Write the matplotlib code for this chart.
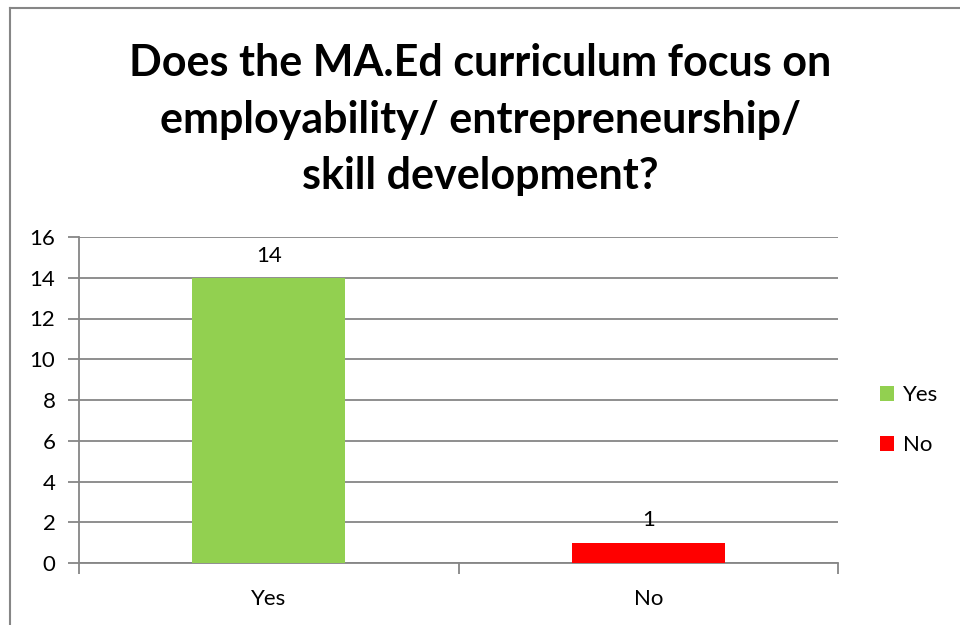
import matplotlib.pyplot as plt
from matplotlib.patches import Patch
from matplotlib.lines import Line2D

categories = ["Yes", "No"]
counts = [14, 1]
bar_colors = ["#92D050", "#FF0000"]
y_ticks = [0, 2, 4, 6, 8, 10, 12, 14, 16]
title = "Does the MA.Ed curriculum focus on\nemployability/ entrepreneurship/\nskill development?"

plt.rcParams['font.family'] = ['Lato', 'DejaVu Sans']
grid_color = "#868686"

fig = plt.figure(figsize=(9.6, 6.25), dpi=100)
W, H = 960, 625
ax = fig.add_axes([79 / W, 1 - 563 / H, (838 - 79) / W, (563 - 237) / H])

x = list(range(len(categories)))
ax.bar(x, counts, width=0.403, color=bar_colors, zorder=3)
for xi, v in zip(x, counts):
    ax.text(xi, v + 0.6, str(v), ha="center", va="bottom", fontsize=16, zorder=4)

ax.set_xlim(-0.5, len(categories) - 0.5)
ax.set_ylim(0, 16)
ax.set_yticks(y_ticks)
ax.set_yticklabels([str(t) for t in y_ticks])
ax.yaxis.grid(True, color=grid_color, linewidth=1.3, zorder=0)
ax.tick_params(axis="y", length=8, width=1.3, color=grid_color, labelsize=16, pad=9)

# category labels without ticks, ticks at category boundaries
ax.set_xticks(x)
ax.set_xticklabels(categories)
ax.tick_params(axis="x", length=0, labelsize=16, pad=19)
ax.set_xticks([-0.5, 0.5, 1.5], minor=True)
ax.tick_params(axis="x", which="minor", length=8, width=1.3, color=grid_color)

for side in ["top", "right"]:
    ax.spines[side].set_visible(False)
for side in ["left", "bottom"]:
    ax.spines[side].set_color(grid_color)
    ax.spines[side].set_linewidth(1.3)

handles = [Patch(facecolor=c, edgecolor="none") for c in bar_colors]
fig.legend(handles, categories, loc="center left", bbox_to_anchor=(860 / W, 1 - 420 / H),
           frameon=False, fontsize=16, handlelength=0.65, handleheight=0.65,
           handletextpad=0.4, labelspacing=1.35)

fig.text(480 / W, 1 - 120 / H, title, ha="center", va="center", fontsize=31,
         fontweight="bold", linespacing=1.5)

# chart area border along the top and left edges
fig.add_artist(Line2D([9.5 / W, 9.5 / W], [0, 1 - 7.5 / H], color=grid_color, linewidth=1.5))
fig.add_artist(Line2D([9.5 / W, 1], [1 - 7.5 / H, 1 - 7.5 / H], color=grid_color, linewidth=1.5))

fig.savefig("out.png", dpi=100)
